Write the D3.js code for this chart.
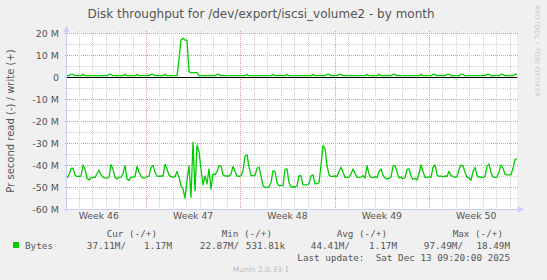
<!DOCTYPE html>
<html>
<head>
<meta charset="utf-8">
<script src="https://cdn.jsdelivr.net/npm/d3@7"></script>
<style>
body { margin: 0; background: #f0f0f0; }
text { font-family: "DejaVu Sans", sans-serif; fill: #555; }
.mono { font-family: "DejaVu Sans Mono", monospace; white-space: pre; }
</style>
</head>
<body>
<script>
// Chart data (MB per second)

// read bytes, drawn below zero
var readValues = [
  45.9,44.5,41.5,41.4,44.5,45.2,45.2,45.0,40.0,41.8,
  46.0,46.8,45.8,45.6,45.6,44.0,42.3,44.5,45.5,45.8,
  46.0,45.5,39.8,41.8,45.6,46.4,45.6,45.6,44.0,40.3,
  46.4,47.0,45.5,45.5,45.3,40.6,43.3,45.0,46.0,45.8,
  45.4,45.0,41.0,40.2,43.3,45.0,45.2,45.0,45.0,39.7,
  41.8,44.6,45.3,45.6,45.2,42.9,45.5,49.4,51.0,55.0,
  47.0,40.3,54.7,29.7,51.7,31.0,34.0,41.8,49.0,45.0,
  48.6,41.8,51.0,44.0,44.5,43.0,40.3,40.5,44.5,45.0,
  45.0,45.0,44.0,40.6,43.0,45.0,45.2,44.8,42.5,36.0,
  35.3,41.0,44.8,44.8,44.8,41.5,41.0,45.0,49.4,50.2,
  50.2,50.0,48.0,42.6,43.0,48.0,49.4,49.4,49.4,42.0,
  41.8,48.0,50.0,50.0,50.0,49.5,45.0,44.8,49.0,49.0,
  49.0,48.5,45.0,44.5,48.6,48.5,48.0,40.0,31.2,32.7,
  40.3,44.5,45.2,45.2,45.0,45.2,43.0,41.0,43.3,45.6,
  45.6,45.6,44.0,41.8,43.8,45.6,45.6,45.5,44.8,46.0,
  40.3,44.3,45.5,45.8,45.3,45.8,43.0,41.8,44.6,46.0,
  46.3,46.0,45.5,40.5,40.3,43.3,45.8,45.5,46.2,45.8,
  42.0,41.8,45.0,46.5,46.0,46.8,44.0,40.0,43.0,45.6,
  45.6,45.4,45.6,41.0,40.0,44.5,45.2,45.0,45.4,45.0,
  45.2,42.8,44.8,45.2,45.6,45.4,42.0,40.0,40.5,43.3,
  45.6,45.8,47.0,43.0,41.0,44.8,45.6,45.4,45.8,45.2,
  40.5,39.5,43.5,45.4,45.6,45.6,43.0,40.0,41.5,44.2,
  44.5,44.5,44.5,41.5,37.5,37.1
];

// write bytes, drawn above zero
var writeValues = [
  0.6,0.6,1.2,1.2,0.6,0.6,0.6,0.6,1.2,0.6,
  0.6,0.6,0.6,0.6,0.6,0.6,0.6,0.6,0.6,0.6,
  0.6,1.2,1.2,0.6,0.6,0.6,0.6,0.6,0.6,1.2,
  0.6,0.6,0.6,0.6,0.6,1.2,0.6,0.6,0.6,0.6,
  0.6,0.6,1.2,1.2,0.6,0.6,0.6,0.6,0.6,1.2,
  0.6,0.6,0.6,0.6,0.6,0.6,8.0,16.8,17.6,16.8,
  16.6,2.4,2.0,2.0,2.0,2.0,0.6,0.6,0.6,0.6,
  0.6,0.6,0.6,0.6,0.6,1.2,1.2,0.6,0.6,0.6,
  0.6,0.6,0.6,0.6,0.6,0.6,0.6,0.6,0.6,0.6,
  1.2,0.6,0.6,0.6,0.6,0.6,0.6,0.6,0.6,0.6,
  0.6,0.6,0.6,1.2,0.6,0.6,0.6,0.6,0.6,0.6,
  1.2,0.6,0.6,0.6,0.6,0.6,0.6,0.6,0.6,0.6,
  0.6,0.6,0.6,1.2,0.6,0.6,0.6,0.6,0.6,0.6,
  1.2,1.2,0.6,0.6,0.6,0.6,1.2,1.2,0.6,0.6,
  0.6,0.6,0.6,0.6,0.6,0.6,0.6,0.6,0.6,0.6,
  1.2,0.6,0.6,0.6,0.6,0.6,1.2,0.6,0.6,0.6,
  0.6,0.6,0.6,1.2,1.2,0.6,0.6,0.6,0.6,0.6,
  0.6,0.6,0.6,0.6,0.6,0.6,0.6,1.2,0.6,0.6,
  0.6,0.6,0.6,1.2,1.2,0.6,0.6,0.6,0.6,0.6,
  1.2,1.2,0.6,0.6,0.6,0.6,0.6,1.2,1.2,0.6,
  0.6,0.6,0.6,0.6,0.6,0.6,0.6,0.6,0.6,0.6,
  1.2,1.2,0.6,0.6,0.6,0.6,0.6,1.2,1.2,0.6,
  0.6,0.6,0.6,0.6,1.2,1.17
];

var yTicks = [20, 10, 0, -10, -20, -30, -40, -50, -60];
var yTickLabels = ["20 M", "10 M", "0", "-10 M", "-20 M", "-30 M", "-40 M", "-50 M", "-60 M"];
var weekLabels = ["Week 46", "Week 47", "Week 48", "Week 49", "Week 50"];
var weekMidpoints = [new Date(2025,10,13,12), new Date(2025,10,20,12), new Date(2025,10,27,12),
                     new Date(2025,11,4,12), new Date(2025,11,11,12)];
var timeStart = new Date(2025,10,11,3,20);
var timeEnd = new Date(2025,11,14,12,40);

var legendHeaders = ["Cur (-/+)", "Min (-/+)", "Avg (-/+)", "Max (-/+)"];
var legendValues = [["37.11M/", "1.17M"], ["22.87M/", "531.81k"], ["44.41M/", "1.17M"], ["97.49M/", "18.49M"]];
var seriesName = "Bytes";

// Layout

var W = 547, H = 280;
var plot = {left: 67, right: 517, top: 33, bottom: 209};
var GREEN = "#00cc00";
var AXIS = "#c8cef5";

var svg = d3.select("body").append("svg").attr("width", W).attr("height", H);
svg.append("rect").attr("width", W).attr("height", H).attr("fill", "#f0f0f0");

var x = d3.scaleTime().domain([timeStart, timeEnd]).range([plot.left, plot.right]);
var y = d3.scaleLinear().domain([-60, 20]).range([plot.bottom, plot.top]);

svg.append("rect")
  .attr("x", plot.left).attr("y", plot.top)
  .attr("width", plot.right - plot.left).attr("height", plot.bottom - plot.top)
  .attr("fill", "#fff");

//Grid

var grid = svg.append("g").attr("shape-rendering", "crispEdges");

var hLines = d3.range(-60, 21, 5);
grid.selectAll("line.h").data(hLines).enter().append("line")
  .attr("x1", plot.left - 2).attr("x2", plot.right + 2)
  .attr("y1", function(d){ return Math.round(y(d)) + 0.5; })
  .attr("y2", function(d){ return Math.round(y(d)) + 0.5; })
  .attr("stroke", function(d){ return d % 10 == 0 ? "#eb9494" : "#cfcfcf"; })
  .attr("stroke-dasharray", "1,1");

var days = d3.timeDay.range(d3.timeDay.ceil(timeStart), timeEnd);
grid.selectAll("line.v").data(days).enter().append("line")
  .attr("x1", function(d){ return Math.round(x(d)) + 0.5; })
  .attr("x2", function(d){ return Math.round(x(d)) + 0.5; })
  .attr("y1", plot.top - 2).attr("y2", plot.bottom + 2)
  .attr("stroke", function(d){ return d.getDay() == 1 ? "#eb9494" : "#cfcfcf"; })
  .attr("stroke-dasharray", "1,1");

// Series

var step = (timeEnd - timeStart) / (readValues.length - 1);
function timeAt(i){ return new Date(timeStart.getTime() + i * step); }

var line = d3.line()
  .x(function(d, i){ return x(timeAt(i)); })
  .y(function(d){ return y(d); });

svg.append("path")
  .datum(readValues.map(function(v){ return -v; }))
  .attr("d", line)
  .attr("fill", "none").attr("stroke", GREEN).attr("stroke-width", 1.3)
  .attr("stroke-linejoin", "round");

svg.append("path")
  .datum(writeValues)
  .attr("d", line)
  .attr("fill", "none").attr("stroke", GREEN).attr("stroke-width", 1.3)
  .attr("stroke-linejoin", "round");

// zero rule
svg.append("line")
  .attr("x1", plot.left).attr("x2", plot.right)
  .attr("y1", y(0) + 0.5).attr("y2", y(0) + 0.5)
  .attr("stroke", "#000").attr("stroke-width", 1);

//Axes

svg.append("line")
  .attr("x1", plot.left - 0.5).attr("x2", plot.left - 0.5)
  .attr("y1", plot.bottom + 3).attr("y2", plot.top - 4)
  .attr("stroke", AXIS);
svg.append("path")
  .attr("d", "M" + (plot.left - 3.5) + "," + (plot.top - 1) + "L" + (plot.left + 2.5) + "," + (plot.top - 1) + "L" + (plot.left - 0.5) + "," + (plot.top - 7) + "Z")
  .attr("fill", AXIS);

svg.append("line")
  .attr("x1", plot.left - 3).attr("x2", plot.right + 4)
  .attr("y1", plot.bottom + 0.5).attr("y2", plot.bottom + 0.5)
  .attr("stroke", AXIS);
svg.append("path")
  .attr("d", "M" + (plot.right + 1) + "," + (plot.bottom - 2.5) + "L" + (plot.right + 1) + "," + (plot.bottom + 3.5) + "L" + (plot.right + 7) + "," + (plot.bottom + 0.5) + "Z")
  .attr("fill", AXIS);

svg.selectAll("text.ytick").data(yTicks).enter().append("text")
  .attr("x", plot.left - 8)
  .attr("y", function(d){ return y(d) + 3.5; })
  .attr("text-anchor", "end")
  .attr("font-size", "9.5px")
  .text(function(d, i){ return yTickLabels[i]; });

svg.selectAll("text.xtick").data(weekMidpoints).enter().append("text")
  .attr("x", function(d){ return x(d); })
  .attr("y", 219)
  .attr("text-anchor", "middle")
  .attr("font-size", "9.3px")
  .text(function(d, i){ return weekLabels[i]; });

// Titles

svg.append("text")
  .attr("x", 261).attr("y", 18)
  .attr("text-anchor", "middle")
  .attr("font-size", "12px")
  .text("Disk throughput for /dev/export/iscsi_volume2 - by month");

svg.append("text")
  .attr("transform", "translate(14,121) rotate(-90)")
  .attr("text-anchor", "middle")
  .attr("font-size", "10px")
  .text("Pr second read (-) / write (+)");

svg.append("text")
  .attr("transform", "translate(535,5) rotate(90)")
  .attr("font-size", "6.5px")
  .attr("textLength", 92).attr("lengthAdjust", "spacing")
  .style("fill", "#c8c8c8")
  .text("RRDTOOL / TOBI OETIKER");

//Legend

var headerRight = [157, 272, 387, 503];
var valueRight = [[126, 172], [239, 285], [350, 397], [463, 510]];

svg.selectAll("text.lhead").data(legendHeaders).enter().append("text")
  .attr("class", "mono")
  .attr("x", function(d, i){ return headerRight[i]; })
  .attr("y", 237)
  .attr("text-anchor", "end")
  .attr("font-size", "9.3px")
  .text(function(d){ return d; });

svg.append("rect")
  .attr("x", 13).attr("y", 242).attr("width", 6).attr("height", 6)
  .attr("fill", GREEN);

svg.append("text")
  .attr("class", "mono")
  .attr("x", 25).attr("y", 249)
  .attr("font-size", "9.3px")
  .text(seriesName);

legendValues.forEach(function(pair, i){
  pair.forEach(function(v, j){
    svg.append("text")
      .attr("class", "mono")
      .attr("x", valueRight[i][j]).attr("y", 249)
      .attr("text-anchor", "end")
      .attr("font-size", "9.3px")
      .text(v);
  });
});

svg.append("text")
  .attr("class", "mono")
  .attr("x", 510).attr("y", 261)
  .attr("text-anchor", "end")
  .attr("font-size", "9.3px")
  .text("Last update:  Sat Dec 13 09:20:00 2025");

svg.append("text")
  .attr("x", 261).attr("y", 272)
  .attr("text-anchor", "middle")
  .attr("font-size", "7.5px")
  .style("fill", "#bbb")
  .text("Munin 2.0.33-1");
</script>
</body>
</html>
